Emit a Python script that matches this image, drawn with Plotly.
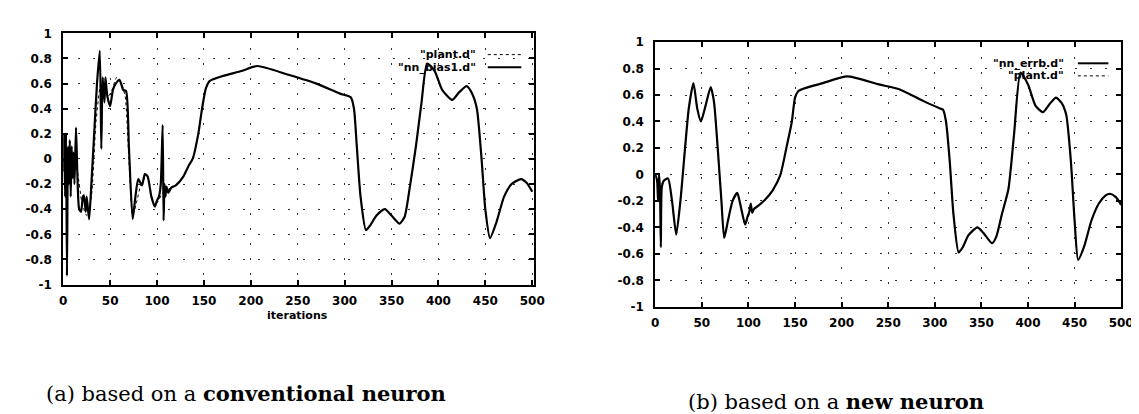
import plotly.graph_objects as go

# ---------------- data ----------------
# (a) conventional neuron
a_nn_t = [0, 1, 2, 3, 4, 5, 6, 7, 8, 9, 10, 11, 12, 13.6, 15, 17, 19, 21, 22, 24, 25, 27.6,
          30, 33, 36, 39, 40.6, 42, 44, 45, 47, 50, 53, 56, 60, 64, 67, 70, 74, 77, 80, 84,
          87, 90, 94, 97.7, 100, 102, 104, 106, 107, 108, 109, 110, 112, 115, 120, 128, 134,
          138, 144, 148, 152, 156, 170, 190, 207, 240, 270, 295, 306.7, 310, 313, 317, 322.8,
          328, 334, 342.8, 350, 358.5, 364, 370, 376, 382, 388, 396, 404, 414.6, 422, 430,
          436, 441, 446, 450, 455, 462, 470, 478, 488, 494, 500]
a_nn_v = [-0.1, 0.2, -0.3, 0.2, -0.93, 0.1, -0.2, 0.15, -0.3, 0.1, -0.15, 0.05, -0.2, 0.25,
          -0.1, -0.4, -0.42, -0.3, -0.29, -0.42, -0.3, -0.48, -0.2, 0.2, 0.6, 0.86, 0.08, 0.65,
          0.45, 0.65, 0.5, 0.42, 0.55, 0.6, 0.63, 0.55, 0.54, 0.1, -0.48, -0.3, -0.16, -0.21,
          -0.12, -0.14, -0.3, -0.38, -0.33, -0.3, -0.2, 0.27, -0.49, -0.2, -0.3, -0.22, -0.27,
          -0.23, -0.21, -0.14, -0.05, 0.0, 0.2, 0.4, 0.56, 0.62, 0.66, 0.70, 0.74, 0.67, 0.6,
          0.52, 0.49, 0.4, 0.1, -0.3, -0.567, -0.52, -0.45, -0.40, -0.45, -0.515, -0.46, -0.2,
          0.1, 0.45, 0.76, 0.70, 0.55, 0.47, 0.53, 0.58, 0.52, 0.4, 0.0, -0.4, -0.63, -0.5,
          -0.3, -0.2, -0.16, -0.19, -0.26]

a_plant_t = [0, 5, 10, 15, 20, 25, 30, 35, 40, 44, 48, 52, 57, 62, 66, 70, 74, 78, 84, 90, 96,
             100, 106, 115, 120, 128, 134, 138, 144, 148, 152, 156, 170, 190, 207, 240, 270, 295,
             306.7, 310, 313, 317, 322.8, 328, 334, 342.8, 350, 358.5, 364, 370, 376, 382, 388,
             396, 404, 414.6, 422, 430, 436, 441, 446, 450, 455, 462, 470, 478, 488, 494, 500]
a_plant_v = [0.0, -0.2, 0.0, -0.1, -0.35, -0.45, -0.3, 0.3, 0.6, 0.65, 0.5, 0.55, 0.65, 0.6,
             0.5, 0.0, -0.45, -0.35, -0.18, -0.14, -0.35, -0.35, -0.27, -0.23, -0.21, -0.14,
             -0.05, 0.0, 0.2, 0.4, 0.56, 0.62, 0.66, 0.70, 0.74, 0.67, 0.6, 0.52, 0.49, 0.4, 0.1,
             -0.3, -0.567, -0.52, -0.45, -0.40, -0.45, -0.515, -0.46, -0.2, 0.1, 0.45, 0.76,
             0.70, 0.55, 0.47, 0.53, 0.58, 0.52, 0.4, 0.0, -0.4, -0.63, -0.5, -0.3, -0.2, -0.16,
             -0.19, -0.26]

# (b) new neuron
b_nn_t = [0, 2, 3, 4, 5, 6, 7, 9, 13.7, 18, 22.5, 27, 32, 36, 41, 45, 49, 54, 59.5, 63, 67, 71,
          74, 78, 83, 88, 92, 96.5, 99, 101, 102.5, 104, 106, 110, 118, 126, 134, 141, 146.6,
          150, 153.6, 160, 180, 206, 240, 261, 289, 305, 308.7, 312, 316, 320, 325.6, 330, 336,
          345.7, 352, 361.5, 366, 372, 379, 385, 392, 400, 408, 416, 423, 430, 436, 441, 446,
          450, 453.8, 460, 468, 476, 483, 488, 494, 500]
b_nn_v = [0.0, -0.05, -0.2, 0.0, -0.1, -0.55, -0.1, -0.05, -0.03, -0.2, -0.455, -0.2, 0.2, 0.5,
          0.69, 0.5, 0.40, 0.52, 0.66, 0.55, 0.2, -0.2, -0.48, -0.35, -0.2, -0.14, -0.25, -0.38,
          -0.32, -0.28, -0.22, -0.29, -0.26, -0.24, -0.19, -0.12, -0.01, 0.21, 0.40, 0.58, 0.63,
          0.65, 0.69, 0.74, 0.68, 0.645, 0.55, 0.50, 0.49, 0.40, 0.1, -0.3, -0.59, -0.55, -0.46,
          -0.40, -0.44, -0.52, -0.47, -0.3, -0.11, 0.3, 0.77, 0.68, 0.52, 0.47, 0.53, 0.58, 0.54,
          0.45, 0.1, -0.35, -0.645, -0.55, -0.35, -0.22, -0.16, -0.146, -0.17, -0.23]

b_plant_t = [0, 5, 9, 13.7, 18, 22.5, 27, 32, 36, 41, 45, 49, 54, 59.5, 63, 67, 71, 74, 78, 83,
             88, 92, 96.5, 101, 106, 110, 118, 126, 134, 141, 146.6, 150, 153.6, 160, 180, 206,
             240, 261, 289, 305, 308.7, 312, 316, 320, 325.6, 330, 336, 345.7, 352, 361.5, 366,
             372, 379, 385, 392, 400, 408, 416, 423, 430, 436, 441, 446, 450, 453.8, 460, 468,
             476, 483, 488, 494, 500]
b_plant_v = [0.0, -0.1, -0.05, -0.03, -0.2, -0.455, -0.2, 0.2, 0.5, 0.69, 0.5, 0.40, 0.52, 0.66,
             0.55, 0.2, -0.2, -0.48, -0.35, -0.2, -0.14, -0.25, -0.38, -0.3, -0.26, -0.24, -0.19,
             -0.12, -0.01, 0.21, 0.40, 0.58, 0.63, 0.65, 0.69, 0.74, 0.68, 0.645, 0.55, 0.50,
             0.49, 0.40, 0.1, -0.3, -0.59, -0.55, -0.46, -0.40, -0.44, -0.52, -0.47, -0.3, -0.11,
             0.3, 0.77, 0.68, 0.52, 0.47, 0.53, 0.58, 0.54, 0.45, 0.1, -0.35, -0.645, -0.55,
             -0.35, -0.22, -0.16, -0.146, -0.17, -0.23]

x_ticks = [0, 50, 100, 150, 200, 250, 300, 350, 400, 450, 500]
y_ticks = [-1, -0.8, -0.6, -0.4, -0.2, 0, 0.2, 0.4, 0.6, 0.8, 1]
y_tick_text = ["-1", "-0.8", "-0.6", "-0.4", "-0.2", "0", "0.2", "0.4", "0.6", "0.8", "1"]
legend_a = ['"plant.d"', '"nn_bias1.d"']
legend_b = ['"nn_errb.d"', '"plant.d"']
caption_a = "(a) based on a <b>conventional neuron</b>"
caption_b = "(b) based on a <b>new neuron</b>"
x_title = "iterations"

# ---------------- figure ----------------
W, H = 1139, 414
def px(x): return x / W
def py(y): return 1 - y / H

TICKFONT = dict(family="DejaVu Sans", size=12, color="black", weight="bold")

fig = go.Figure()
fig.add_trace(go.Scatter(x=a_plant_t, y=a_plant_v, mode="lines", xaxis="x", yaxis="y",
                         line=dict(color="black", width=1, dash="dot", shape="spline", smoothing=0.6),
                         showlegend=False))
fig.add_trace(go.Scatter(x=a_nn_t, y=a_nn_v, mode="lines", xaxis="x", yaxis="y",
                         line=dict(color="black", width=2.2, shape="spline", smoothing=0.6),
                         showlegend=False))
fig.add_trace(go.Scatter(x=b_plant_t, y=b_plant_v, mode="lines", xaxis="x2", yaxis="y2",
                         line=dict(color="black", width=1, dash="dot", shape="spline", smoothing=0.6),
                         showlegend=False))
fig.add_trace(go.Scatter(x=b_nn_t, y=b_nn_v, mode="lines", xaxis="x2", yaxis="y2",
                         line=dict(color="black", width=2.2, shape="spline", smoothing=0.6),
                         showlegend=False))

axis_common = dict(showline=True, linecolor="black", linewidth=2, mirror="allticks",
                   ticks="inside", ticklen=5, tickcolor="black", tickwidth=1.5,
                   showgrid=True, gridcolor="#333", gridwidth=1.2, griddash="2px,13px",
                   zeroline=False, tickfont=TICKFONT)

fig.update_layout(
    width=W, height=H, margin=dict(l=0, r=0, t=0, b=0),
    paper_bgcolor="white", plot_bgcolor="white", showlegend=False,
    xaxis=dict(domain=[px(52), px(530)], range=[0, 502], anchor="y",
               tickvals=x_ticks, ticklabelstandoff=4, **axis_common),
    yaxis=dict(domain=[py(279), py(19)], range=[-1, 1], anchor="x",
               tickvals=y_ticks, ticktext=y_tick_text, ticklabelstandoff=7, **axis_common),
    xaxis2=dict(domain=[px(653), px(1126)], range=[0, 500], anchor="y2",
                tickvals=x_ticks, ticklabelstandoff=4, **axis_common),
    yaxis2=dict(domain=[py(302), py(28)], range=[-1, 1], anchor="x2",
                tickvals=y_ticks, ticktext=y_tick_text, ticklabelstandoff=7, **axis_common),
)

LEGFONT = dict(family="DejaVu Sans", size=11, color="black", weight="bold")
ann = []
shapes = []
# legend (a)
for i, (lab, dash, w) in enumerate(zip(legend_a, ["dot", "solid"], [1, 2])):
    y = 41 + 13 * i
    ann.append(dict(x=px(473), y=py(y), xref="paper", yref="paper", text=lab, showarrow=False,
                    xanchor="right", yanchor="middle", font=LEGFONT))
    shapes.append(dict(type="line", xref="paper", yref="paper", x0=px(483), x1=px(517),
                       y0=py(y), y1=py(y), line=dict(color="black", width=w, dash=dash)))
# legend (b)
for i, (lab, dash, w) in enumerate(zip(legend_b, ["solid", "dot"], [2, 1])):
    y = 50 + 13 * i
    ann.append(dict(x=px(1070), y=py(y), xref="paper", yref="paper", text=lab, showarrow=False,
                    xanchor="right", yanchor="middle", font=LEGFONT))
    shapes.append(dict(type="line", xref="paper", yref="paper", x0=px(1082), x1=px(1113),
                       y0=py(y), y1=py(y), line=dict(color="black", width=w, dash=dash)))

ann.append(dict(x=px(290), y=py(311), xref="paper", yref="paper", text=x_title, showarrow=False,
                xanchor="center", yanchor="middle",
                font=dict(family="DejaVu Sans", size=11, color="black", weight="bold")))
CAPFONT = dict(family="DejaVu Serif", size=21, color="black")
ann.append(dict(x=px(238), y=py(392), xref="paper", yref="paper", text=caption_a, showarrow=False,
                xanchor="center", yanchor="middle", font=CAPFONT))
ann.append(dict(x=px(836), y=py(400), xref="paper", yref="paper", text=caption_b, showarrow=False,
                xanchor="center", yanchor="middle", font=CAPFONT))

fig.update_layout(annotations=ann, shapes=shapes)
fig.write_html("out.html")
